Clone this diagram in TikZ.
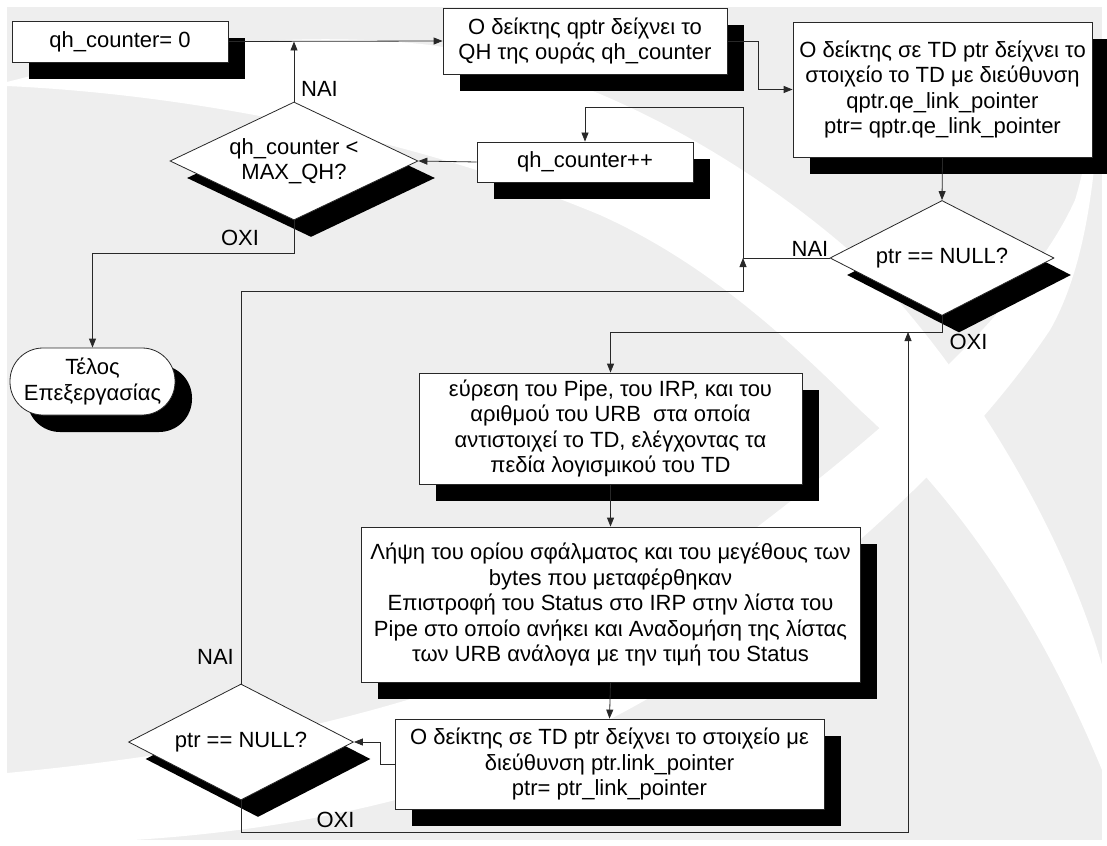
\documentclass[tikz,border=0pt]{standalone}
\usepackage{fontspec}
\setmainfont{Liberation Sans}
\usetikzlibrary{arrows.meta, shapes.geometric, shadows}

\definecolor{bggray}{RGB}{238,238,238}
\definecolor{edgegray}{RGB}{40,40,40}

\tikzset{
  shadowed/.style={drop shadow={shadow xshift=17pt, shadow yshift=-17pt, fill=black, opacity=1}},
  block/.style={rectangle, draw=edgegray, line width=0.8pt, fill=white, align=center, inner sep=1pt, shadowed},
  decision/.style={diamond, aspect=2, draw=edgegray, line width=0.8pt, fill=white, align=center, inner sep=0pt, shadowed},
  terminal/.style={rectangle, rounded corners=33pt, draw=edgegray, line width=0.8pt, fill=white, align=center, inner sep=1pt, shadowed},
  lbl/.style={inner sep=0pt},
  flow/.style={draw=edgegray, line width=0.8pt, -{Triangle[length=9pt, width=7pt]}},
  link/.style={draw=edgegray, line width=0.8pt}
}

\begin{document}
\begin{tikzpicture}[x=1pt, y=-1pt, every node/.style={font=\fontsize{22}{25.5}\selectfont}]
\useasboundingbox (0,0) rectangle (1107,845);

% background with the white swooshes
\fill[bggray] (7,7) rectangle (1102,840);
\fill[white] (7,82) .. controls (150,45) and (300,30) .. (430,45)
  .. controls (600,70) and (760,170) .. (860,260)
  .. controls (960,360) and (1060,520) .. (1102,665)
  -- (1102,770) .. controls (1040,620) and (960,500) .. (860,410)
  .. controls (780,330) and (700,260) .. (600,215)
  .. controls (420,140) and (200,95) .. (7,86) -- cycle;
\fill[white] (7,773) .. controls (300,745) and (550,680) .. (740,540)
  .. controls (900,420) and (1030,300) .. (1075,200)
  .. controls (1090,150) and (1097,90) .. (1100,40)
  .. controls (1100,150) and (1090,260) .. (1050,330)
  .. controls (990,420) and (900,510) .. (800,590)
  .. controls (650,720) and (450,820) .. (133,840)
  -- (7,840) -- cycle;

% steps
\node[block, minimum width=216pt, minimum height=41pt] (init) at (120,41.5) {qh\_counter= 0};
\node[block, minimum width=284pt, minimum height=66pt] (qptr) at (585,41) {Ο δείκτης qptr δείχνει το\\QH της ουράς qh\_counter};
\node[block, minimum width=299pt, minimum height=135pt] (tdptr) at (942.5,89.5) {Ο δείκτης σε TD ptr δείχνει το\\στοιχείο το TD με διεύθυνση\\qptr.qe\_link\_pointer\\ptr= qptr.qe\_link\_pointer};
\node[decision, aspect=2.1, minimum width=248pt, minimum height=118pt] (cmp) at (294,161) {qh\_counter <\\MAX\_QH?};
\node[block, minimum width=216pt, minimum height=40pt] (incr) at (585,162) {qh\_counter++};
\node[decision, aspect=1.95, minimum width=224pt, minimum height=115pt] (null1) at (942,258) {ptr == NULL?};
\node[terminal, minimum width=165pt, minimum height=67pt] (end) at (92.5,381.5) {Τέλος\\Επεξεργασίας};
\node[block, minimum width=383pt, minimum height=111pt] (find) at (610.5,428.5) {εύρεση του Pipe, του IRP, και του\\αριθμού του URB\ \ στα οποία\\αντιστοιχεί το TD, ελέγχοντας τα\\πεδία λογισμικού του TD};
\node[block, minimum width=499pt, minimum height=155pt] (stat) at (610.5,604.5) {Λήψη του ορίου σφάλματος και του μεγέθους των\\bytes που μεταφέρθηκαν\\Επιστροφή του Status στο IRP στην λίστα του\\Pipe στο οποίο ανήκει και Αναδομήση της λίστας\\των URB ανάλογα με την τιμή του Status};
\node[block, minimum width=429pt, minimum height=90pt] (next) at (609.5,764) {Ο δείκτης σε TD ptr δείχνει το στοιχείο με\\διεύθυνση ptr.link\_pointer\\ptr= ptr\_link\_pointer};
\node[decision, aspect=1.95, minimum width=225pt, minimum height=116pt] (null2) at (241,742) {ptr == NULL?};

% branch labels
\node[lbl] (yes1) at (319.5,88.5) {ΝΑΙ};
\node[lbl] (no1) at (240,237.5) {ΟΧΙ};
\node[lbl] (yes2) at (810,248.5) {ΝΑΙ};
\node[lbl] (no2) at (968.5,341.5) {ΟΧΙ};
\node[lbl] (yes3) at (215.5,656.5) {ΝΑΙ};
\node[lbl] (no3) at (335.5,819.5) {ΟΧΙ};

% junctions of the loops
\coordinate (ret) at (743,258);
\coordinate (top) at (743,107);
\coordinate (back) at (908,332);

% connectors
\draw[flow] (init.east) -- (qptr.west);
\draw[flow] (cmp.north) -- (cmp.north |- init.east);
\draw[flow] (cmp.south) -- (294,253) -| (end.north);
\draw[flow] (qptr.east) -- (758,41) |- (tdptr.west);
\draw[flow] (tdptr.south) -- (null1.north);
\draw[flow] (null1.west) -- (ret) -- (top) -| (incr.north);
\draw[flow] (incr.west) -- (cmp.east);
\draw[flow] (null1.south) -- (942,332) -| (find.north);
\draw[flow] (find.south) -- (stat.north);
\draw[flow] (stat.south) -- (next.north);
\draw[flow] (next.west) -- (380,764) |- (null2.east);
\draw[flow] (null2.north) -- (241,291) -| (ret);
\draw[flow] (null2.south) -- (241,832) -| (back);

\end{tikzpicture}
\end{document}
